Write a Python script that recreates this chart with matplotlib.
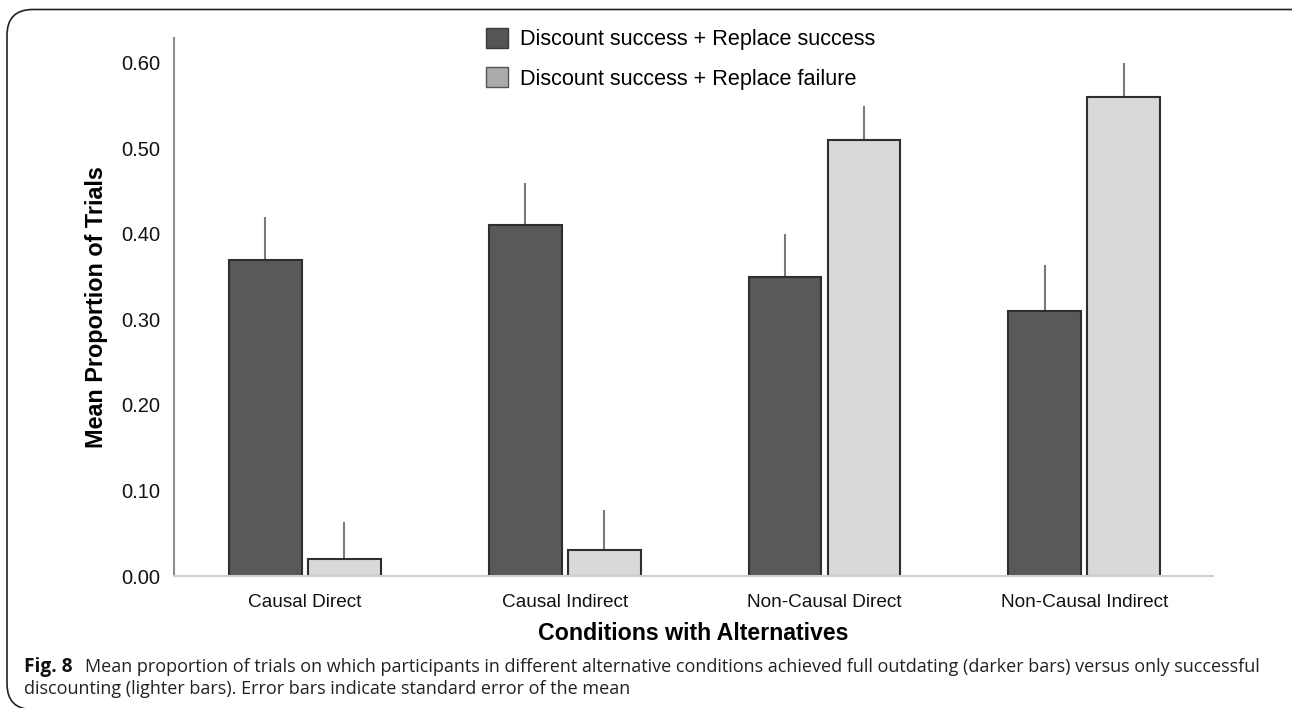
import matplotlib
matplotlib.use("Agg")
import matplotlib.pyplot as plt
from matplotlib.patches import FancyBboxPatch, Patch
import numpy as np

conditions = ["Causal Direct", "Causal Indirect", "Non-Causal Direct", "Non-Causal Indirect"]
series_names = ["Discount success + Replace success", "Discount success + Replace failure"]
replace_success = [0.37, 0.41, 0.35, 0.31]
replace_success_se = [0.05, 0.05, 0.05, 0.054]
replace_failure = [0.02, 0.03, 0.51, 0.56]
replace_failure_se = [0.043, 0.047, 0.04, 0.04]
y_ticks = [0.0, 0.1, 0.2, 0.3, 0.4, 0.5, 0.6]

W, H = 1292, 708
fig = plt.figure(figsize=(W / 100, H / 100), dpi=100)
plt.rcParams["font.family"] = ["Liberation Sans", "DejaVu Sans"]

# rounded frame around figure + caption
frame = FancyBboxPatch((7 / W, -1.5 / H), 1.2, (H - 8) / H,
                       boxstyle="round,pad=0,rounding_size=0.02",
                       transform=fig.transFigure, fill=False,
                       edgecolor="#222222", linewidth=1.2, mutation_aspect=W / H)
fig.patches.append(frame)

ax = fig.add_axes([174 / W, 1 - 576 / H, (1213 - 174) / W, (576 - 38) / H])
x = np.arange(len(conditions))
width = 0.28
off = 0.152

dark = "#595959"
light = "#d9d9d9"
edge = "#2e2e2e"

ax.errorbar(x - off, replace_success, yerr=[np.zeros(4), replace_success_se],
            fmt="none", ecolor="#7a7a7a", elinewidth=1.5, capsize=0, zorder=1)
ax.errorbar(x + off, replace_failure, yerr=[np.zeros(4), replace_failure_se],
            fmt="none", ecolor="#7a7a7a", elinewidth=1.5, capsize=0, zorder=1)
ax.bar(x - off, replace_success, width, color=dark, edgecolor=edge, linewidth=1.5, zorder=2)
ax.bar(x + off, replace_failure, width, color=light, edgecolor=edge, linewidth=1.5, zorder=2)

ax.set_xlim(-0.504, 3.496)
ax.set_ylim(0, 0.629)
ax.set_yticks(y_ticks)
ax.set_yticklabels([f"{v:.2f}" for v in y_ticks], fontsize=14.5)
ax.set_xticks(x)
ax.set_xticklabels(conditions, fontsize=13.7)
ax.tick_params(length=0, colors="#111111")
ax.tick_params(axis="y", pad=10)
ax.tick_params(axis="x", pad=13)

for s in ["top", "right"]:
    ax.spines[s].set_visible(False)
ax.spines["left"].set_color("#8c8c8c")
ax.spines["left"].set_linewidth(1.5)
ax.spines["bottom"].set_color("#cfcfcf")
ax.spines["bottom"].set_linewidth(1.5)

ax.set_ylabel("Mean Proportion of Trials", fontsize=16.8, fontweight="bold", labelpad=9)
ax.set_xlabel("Conditions with Alternatives", fontsize=16.7, fontweight="bold", labelpad=8)

handles = [Patch(facecolor="#555555", edgecolor="#3a3a3a"),
           Patch(facecolor="#ababab", edgecolor="#555555")]
fig.legend(handles, series_names, loc="upper left",
           bbox_to_anchor=(466 / W, 1 - 8 / H), frameon=False, fontsize=15.6,
           handlelength=1.05, handleheight=1.05, handletextpad=0.55, labelspacing=0.8)

cap_font = ["Open Sans", "DejaVu Sans"]
cap_size = 13.0
fig.text(24 / W, 1 - 667 / H, "Fig. 8", fontsize=13.8, va="center", family=cap_font,
         fontweight="bold", color="#111111")
fig.text(85 / W, 1 - 667 / H,
         "Mean proportion of trials on which participants in different alternative conditions "
         "achieved full outdating (darker bars) versus only successful",
         fontsize=cap_size, va="center", family=cap_font, color="#222222")
fig.text(24 / W, 1 - 689 / H,
         "discounting (lighter bars). Error bars indicate standard error of the mean",
         fontsize=cap_size, va="center", family=cap_font, color="#222222")

fig.savefig("out.png", dpi=100)
